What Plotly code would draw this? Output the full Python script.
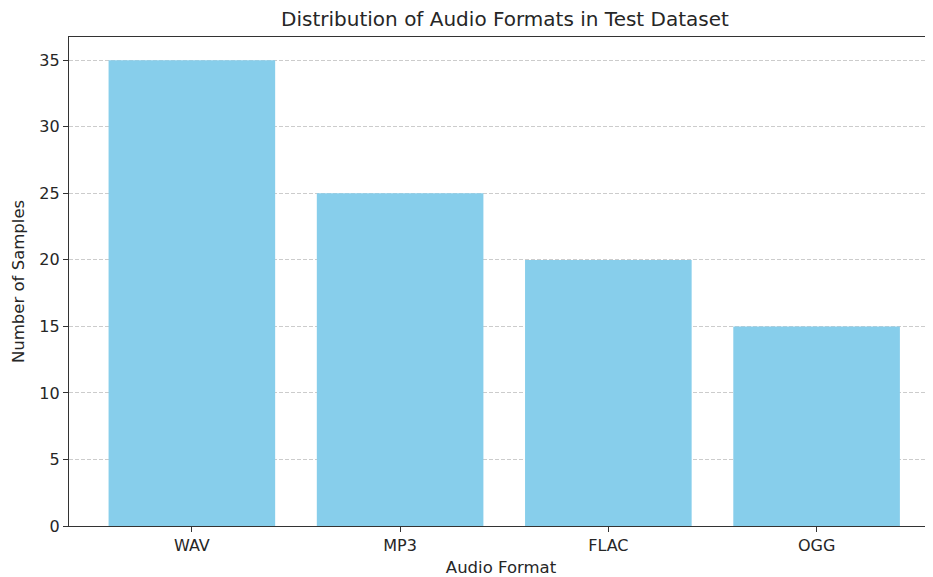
import plotly.graph_objects as go

formats = ["WAV", "MP3", "FLAC", "OGG"]
counts = [35, 25, 20, 15]

fig = go.Figure(go.Bar(x=list(range(len(formats))), y=counts, marker_color="#87CEEB",
                       marker_line_width=0, width=0.8))

font = "DejaVu Sans, sans-serif"
W, H = 925, 569
L, R, T, B = 61, 0, 29, 51
fig.update_layout(
    width=W, height=H,
    margin=dict(l=L, r=R, t=T, b=B),
    plot_bgcolor="white", paper_bgcolor="white",
    font=dict(family=font, size=16, color="#262626"),
    title=dict(text="Distribution of Audio Formats in Test Dataset", x=(505 - 8) / W, xanchor="center",
               y=1 - 11 / H, yanchor="middle", font=dict(size=20, color="#262626")),
    showlegend=False,
)
fig.add_annotation(text="Number of Samples", textangle=-90, showarrow=False,
                   xref="paper", yref="paper", x=(10.5 - L) / (W - L - R), y=0.5,
                   xanchor="center", yanchor="middle", font=dict(size=16.5, color="#262626"))
fig.update_xaxes(
    range=[-0.59, 3.559], tickmode="array", tickvals=list(range(len(formats))), ticktext=formats,
    showgrid=False, zeroline=False, showline=True, linecolor="#333", linewidth=1.2, mirror=True,
    ticks="outside", ticklen=5, tickcolor="#333",
    title=dict(text="Audio Format", standoff=8, font=dict(size=16.5)),
    tickfont=dict(size=16),
)
fig.update_yaxes(
    range=[0, 36.75], tickvals=[0, 5, 10, 15, 20, 25, 30, 35],
    showgrid=True, gridcolor="#cccccc", griddash="4px,2px", gridwidth=1,
    zeroline=False, showline=True, linecolor="#333", linewidth=1.2,
    ticks="outside", ticklen=5, tickcolor="#333",
    tickfont=dict(size=16),
)
fig.write_html("out.html")
